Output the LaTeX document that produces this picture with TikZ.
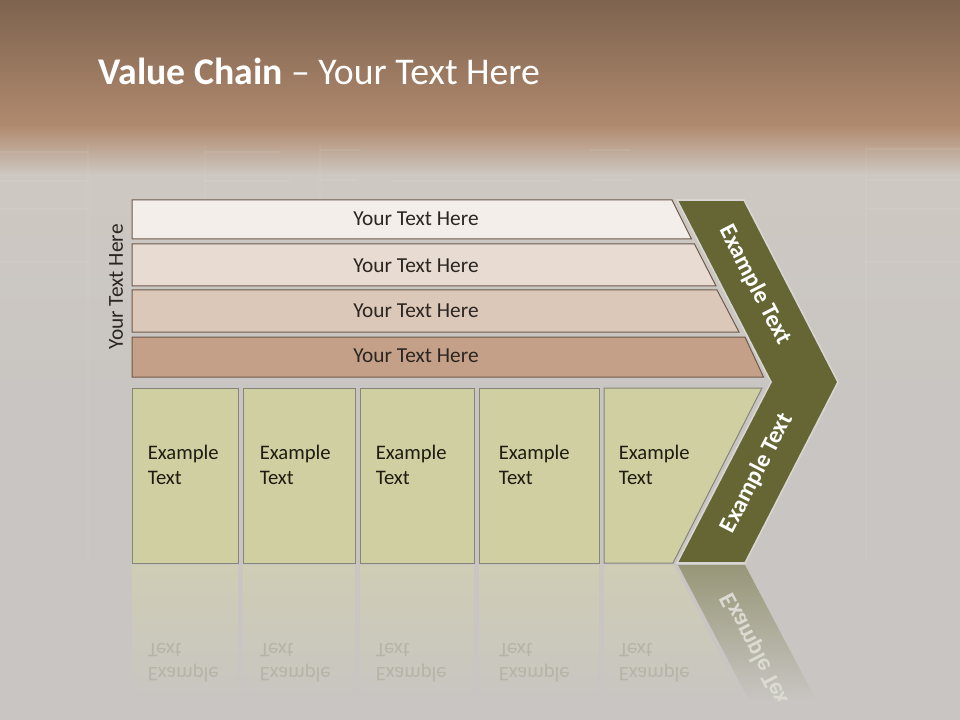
\documentclass[tikz,border=0pt]{standalone}
\usepackage{fontspec}
\setmainfont{Carlito}
\definecolor{bgTop}{HTML}{7E634F}
\definecolor{bgMid}{HTML}{B08A6E}
\definecolor{bgLow}{HTML}{CEC8C2}
\definecolor{bgBot}{HTML}{C8C5C2}
\definecolor{barA}{HTML}{F4EEEA}
\definecolor{barB}{HTML}{E8DBD2}
\definecolor{barC}{HTML}{DCC8B9}
\definecolor{barD}{HTML}{C4A088}
\definecolor{barLine}{HTML}{6E5A4C}
\definecolor{gFill}{HTML}{D0CFA2}
\definecolor{gLine}{HTML}{85857A}
\definecolor{chevFill}{HTML}{656633}
\definecolor{chevEdge}{HTML}{D8D6D2}
\definecolor{txtDark}{HTML}{2B2622}
\definecolor{gTxt}{HTML}{1E1C10}
\definecolor{reflBox}{HTML}{CFCDB4}
\definecolor{reflChev}{HTML}{979778}
\definecolor{reflTxtA}{HTML}{B6B4A7}
\definecolor{reflChevTxt}{HTML}{DCDBD2}
\tikzset{
  barshape/.style={draw=barLine, line width=0.75pt},
  bartext/.style={font=\fontsize{16}{19}\selectfont, text=txtDark, inner sep=0pt},
  gboxshape/.style={fill=gFill, draw=gLine, line width=0.75pt},
  gtext/.style={font=\fontsize{15.5}{18}\selectfont, text=gTxt, anchor=base west, inner sep=0pt},
  chevtext/.style={font=\bfseries\fontsize{18}{21}\selectfont, text=white, inner sep=0pt},
  refltext/.style={font=\fontsize{15.5}{18}\selectfont, anchor=base west, inner sep=0pt, yscale=-1},
  reflshape/.style={top color=#1, bottom color=bgBot, draw=none},
}
\begin{document}
\begin{tikzpicture}[x=0.75pt,y=-0.75pt]
\useasboundingbox (0,0) rectangle (960,720);
% background
\fill[bgBot] (0,0) rectangle (960,720);
\shade[top color=bgTop, bottom color=bgMid] (0,0) rectangle (960,126);
\shade[top color=bgMid, bottom color=bgLow] (0,125.5) rectangle (960,175);
\shade[top color=bgLow, bottom color=bgBot] (0,174.5) rectangle (960,420);
% faint texture
\begin{scope}[white, opacity=0.07, line width=1.5pt]
  \draw (0,152) -- (88,152) (205,152) -- (280,152) (320,150) -- (360,150) (590,150) -- (630,150) (866,149) -- (960,149);
  \draw (0,181) -- (88,181) (205,181) -- (290,181) (320,180) -- (358,180) (390,181) -- (560,181) (592,180) -- (632,180) (866,180) -- (960,180);
  \draw (0,209) -- (88,209) (866,209) -- (960,209) (866,262) -- (960,262) (0,262) -- (88,262);
\end{scope}
\begin{scope}[white, opacity=0.04, line width=1pt]
  \draw (88,145) -- (88,560) (866,145) -- (866,560) (205,145) -- (205,200) (320,145) -- (320,200);
\end{scope}
% bars
\draw[barshape, fill=barA] (132,200) -- (672,200) -- (691.5,239) -- (132,239) -- cycle;
\draw[barshape, fill=barB] (132,244) -- (694.5,244) -- (716,286) -- (132,286) -- cycle;
\draw[barshape, fill=barC] (132,290) -- (717,290) -- (739,332) -- (132,332) -- cycle;
\draw[barshape, fill=barD] (132,337) -- (745,337) -- (763.5,377) -- (132,377) -- cycle;
\node[bartext] (t1) at (416,219) {Your Text Here};
\node[bartext] (t2) at (416,266) {Your Text Here};
\node[bartext] (t3) at (416,311) {Your Text Here};
\node[bartext] (t4) at (416,356) {Your Text Here};
\node[bartext, rotate=90] (side) at (116,287) {Your Text Here};
% reflections
\shade[reflshape=reflBox] (132,565) rectangle (238,700);
\shade[reflshape=reflBox] (243,565) rectangle (355,700);
\shade[reflshape=reflBox] (360,565) rectangle (474,700);
\shade[reflshape=reflBox] (479,565) rectangle (599,700);
\shade[reflshape=reflBox] (604,565) -- (674,565) -- (743.5,700) -- (604,700) -- cycle;
\shade[reflshape=reflChev] (678,565) -- (745,565) -- (816,700) -- (749,700) -- cycle;
\node[refltext, text=reflTxtA] (r1b) at (147.5,667) {Example};
\node[refltext, text=reflTxtA] (r1a) at (147.5,643) {Text};
\node[refltext, text=reflTxtA] (r2b) at (259.5,667) {Example};
\node[refltext, text=reflTxtA] (r2a) at (259.5,643) {Text};
\node[refltext, text=reflTxtA] (r3b) at (375.5,667) {Example};
\node[refltext, text=reflTxtA] (r3a) at (375.5,643) {Text};
\node[refltext, text=reflTxtA] (r4b) at (498.5,667) {Example};
\node[refltext, text=reflTxtA] (r4a) at (498.5,643) {Text};
\node[refltext, text=reflTxtA] (r5b) at (618.5,667) {Example};
\node[refltext, text=reflTxtA] (r5a) at (618.5,643) {Text};
\begin{scope}
  \clip (678,565) -- (745,565) -- (816,700) -- (749,700) -- cycle;
  \node[chevtext, text=reflChevTxt, yscale=-1, rotate=62.7] (rc) at (757,653) {Example Text};
\end{scope}
% green boxes
\draw[gboxshape] (132,388) rectangle (238,563);
\draw[gboxshape] (243,388) rectangle (355,563);
\draw[gboxshape] (360,388) rectangle (474,563);
\draw[gboxshape] (479,388) rectangle (599,563);
\draw[gboxshape] (604,388) -- (762,388) -- (673,563) -- (604,563) -- cycle;
\node[gtext] (g1a) at (147.5,459) {Example};
\node[gtext] (g1b) at (147.5,484) {Text};
\node[gtext] (g2a) at (259.5,459) {Example};
\node[gtext] (g2b) at (259.5,484) {Text};
\node[gtext] (g3a) at (375.5,459) {Example};
\node[gtext] (g3b) at (375.5,484) {Text};
\node[gtext] (g4a) at (498.5,459) {Example};
\node[gtext] (g4b) at (498.5,484) {Text};
\node[gtext] (g5a) at (618.5,459) {Example};
\node[gtext] (g5b) at (618.5,484) {Text};
% chevron
\draw[fill=chevFill, draw=chevEdge, line width=1.2pt, line join=miter]
  (677,200) -- (744,200) -- (838,382) -- (745,563) -- (677,563) -- (771,382) -- cycle;
\node[chevtext, rotate=-62.7] (c1) at (755,285) {Example Text};
\node[chevtext, rotate=62.7] (c2) at (757,473) {Example Text};
% title
\node[anchor=base west, inner sep=0pt, text=white, font=\fontsize{28.3}{32}\selectfont] (title) at (98,84.5) {\textbf{Value Chain} – Your Text Here};
\end{tikzpicture}
\end{document}
